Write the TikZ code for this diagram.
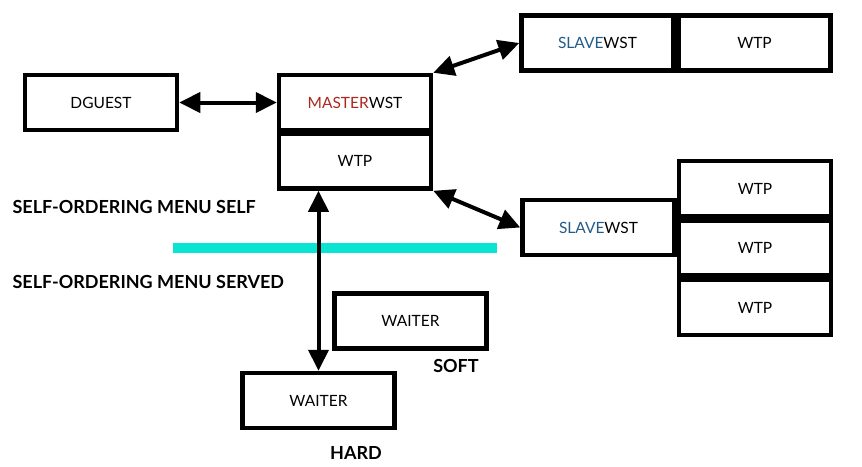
\documentclass[tikz,border=0pt]{standalone}
\usepackage{fontspec}
\setmainfont{Lato}
\usetikzlibrary{arrows.meta}

\definecolor{masterred}{RGB}{170,40,30}
\definecolor{slaveblue}{RGB}{35,90,135}
\definecolor{menucyan}{RGB}{10,228,210}

\begin{document}
\begin{tikzpicture}[x=1pt, y=-1pt,
  box/.style={draw=black, line width=4.5pt, minimum width=152pt, minimum height=55pt,
    inner sep=0pt, font=\fontsize{15.5}{18}\selectfont},
  link/.style={line width=4pt, {Triangle[length=21pt,width=20pt]}-{Triangle[length=21pt,width=20pt]}},
  tag/.style={font=\bfseries\fontsize{18}{21}\selectfont}]
  \useasboundingbox (0,0) rectangle (862,466);

  % Self / served divider
  \fill[menucyan] (173,243) rectangle (497,253);
  \node[tag, anchor=west] (selflbl) at (9,207) {SELF-ORDERING MENU SELF};
  \node[tag, anchor=west] (servedlbl) at (9,282) {SELF-ORDERING MENU SERVED};

  % Guest and master
  \node[box] (dguest) at (101,102.5) {DGUEST};
  \node[box] (master) at (355,102.5) {\textcolor{masterred}{MASTER}WST};
  \node[box] (mwtp) at (355,161) {WTP};

  % Slave top
  \node[box] (slave1) at (597.5,43) {\textcolor{slaveblue}{SLAVE}WST};
  \node[box] (slave1wtp) at (754.5,43) {WTP};

  % Slave bottom with 3 WTP
  \node[box] (slave2) at (598.5,227.5) {\textcolor{slaveblue}{SLAVE}WST};
  \foreach \i in {0,1,2} {
    \node[box] (slave2wtp\i) at (755,{188.5+\i*59.5}) {WTP};
  }

  % Waiters
  \node[box] (softwaiter) at (410.5,321) {WAITER};
  \node[tag] (softlbl) at (456,366) {SOFT};
  \node[box] (hardwaiter) at (318.5,400.5) {WAITER};
  \node[tag] (hardlbl) at (356,453) {HARD};

  % Links
  \draw[link] (dguest) -- (master);
  \draw[link] (master.north east) -- (slave1.west);
  \draw[link] (mwtp.south east) -- (slave2.west);
  \draw[link] (hardwaiter.north |- mwtp.south) -- (hardwaiter.north);
\end{tikzpicture}
\end{document}
